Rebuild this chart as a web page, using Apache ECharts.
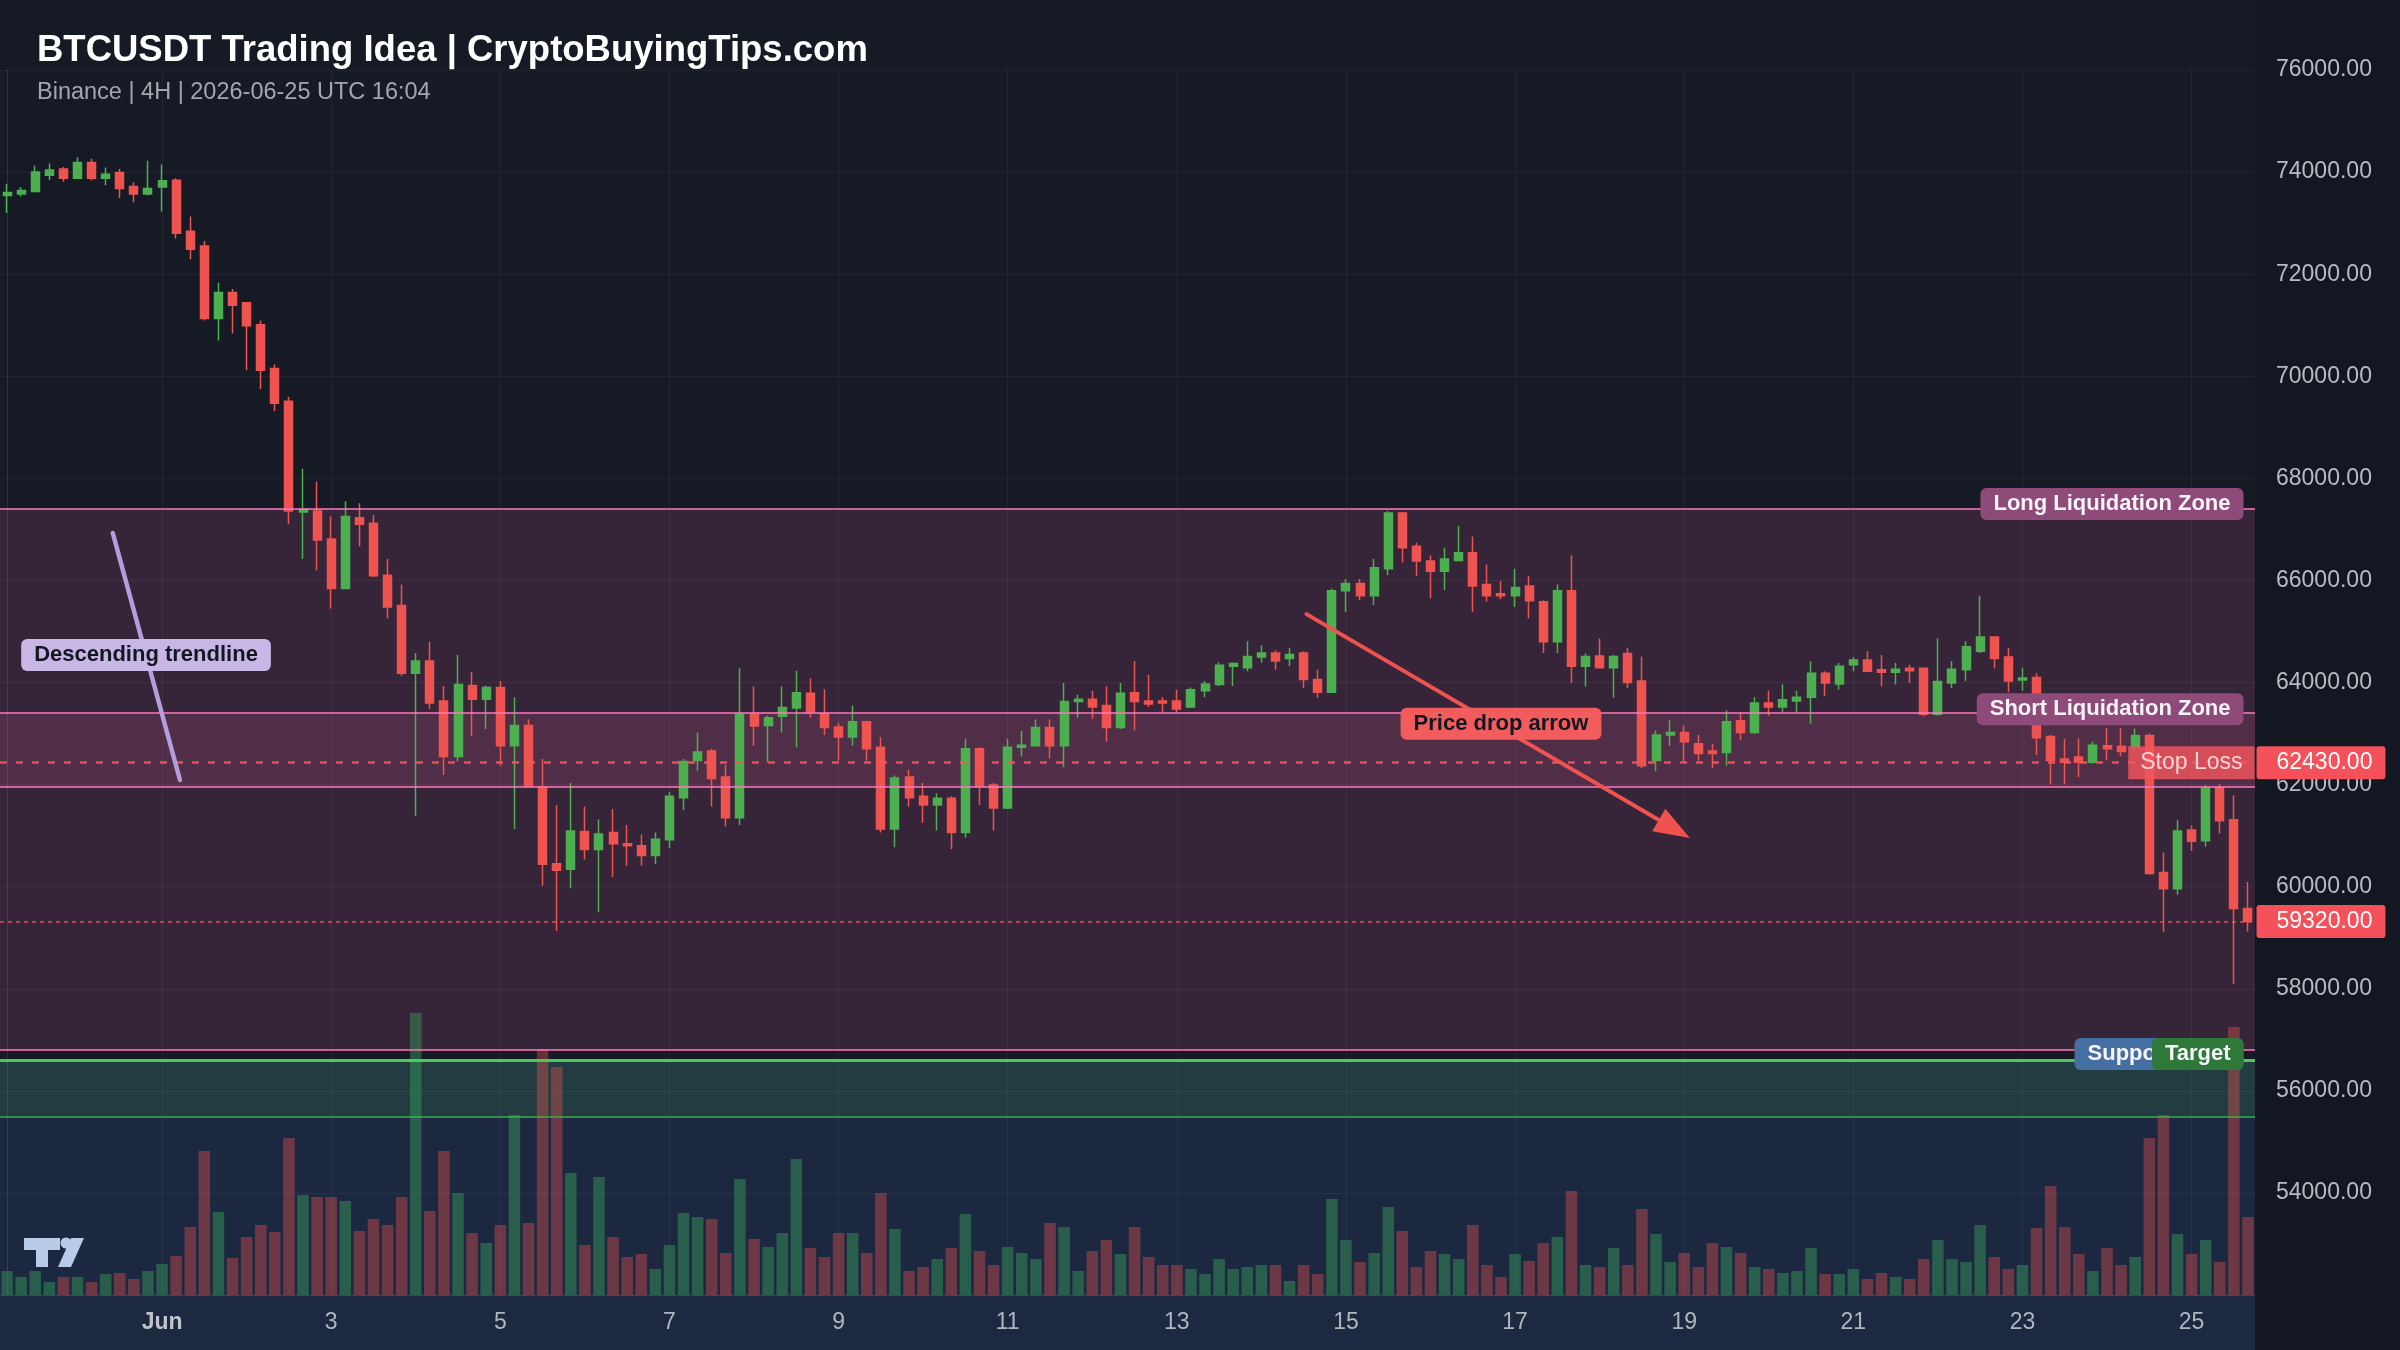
<!DOCTYPE html>
<html>
<head>
<meta charset="utf-8">
<title>BTCUSDT Trading Idea</title>
<script src="https://cdn.jsdelivr.net/npm/echarts@6.0.0/dist/echarts.min.js"></script>
<style>
  html, body { margin: 0; padding: 0; background: #161a25; }
  #main { width: 2400px; height: 1350px; }
</style>
</head>
<body>
<div id="main"></div>
<script>
// 4H candles, [open, high, low, close], first bar 2026-05-30 04:00 UTC
var candles = [
  [73540,73770,73200,73600],[73570,73710,73520,73640],[73620,74130,73600,74000],[73940,74170,73840,74040],
  [74060,74100,73810,73880],[73880,74290,73870,74190],[74190,74260,73840,73880],[73880,74090,73740,73960],
  [73990,74060,73490,73680],[73720,73800,73410,73570],[73570,74220,73540,73680],[73710,74150,73230,73830],
  [73840,73880,72700,72800],[72840,73130,72290,72490],[72550,72650,71090,71130],[71130,71830,70700,71640],
  [71640,71710,70840,71390],[71440,71450,70120,70990],[71010,71090,69750,70120],[70150,70230,69320,69470],
  [69510,69600,67100,67360],[67340,68190,66420,67390],[67360,67940,66200,66790],[66810,67250,65450,65840],
  [65840,67550,65830,67250],[67230,67510,66670,67100],[67120,67280,66060,66090],[66100,66420,65260,65480],
  [65510,65920,64130,64180],[64180,64580,61390,64420],[64420,64800,63480,63600],[63640,63930,62190,62550],
  [62550,64540,62450,63960],[63940,64210,62950,63670],[63670,63940,63090,63900],[63900,64030,62370,62760],
  [62760,63710,61130,63160],[63160,63280,61960,61970],[61960,62500,60020,60440],[60450,61600,59130,60320],
  [60340,62030,59970,61090],[61080,61570,60530,60730],[60730,61320,59500,61030],[61060,61520,60190,60840],
  [60840,61210,60410,60800],[60800,61020,60410,60610],[60610,61060,60440,60930],[60920,61860,60760,61770],
  [61740,62500,61500,62450],[62470,63020,62270,62640],[62660,62700,61570,62120],[62150,62390,61180,61350],
  [61350,64280,61210,63380],[63380,63920,62760,63150],[63160,63350,62440,63310],[63340,63920,63020,63510],
  [63500,64230,62730,63800],[63790,64080,63310,63410],[63390,63870,62970,63120],[63130,63210,62470,62930],
  [62930,63550,62760,63230],[63230,63250,62470,62700],[62730,62930,61060,61130],[61130,62180,60770,62130],
  [62150,62290,61570,61740],[61770,62030,61250,61600],[61600,61830,61100,61730],[61730,61770,60740,61060],
  [61060,62900,60960,62700],[62700,62730,61600,61970],[61990,62030,61100,61540],[61540,62900,61520,62730],
  [62730,63050,62550,62770],[62760,63280,62740,63120],[63120,63280,62510,62760],[62760,63990,62340,63630],
  [63630,63760,63310,63670],[63670,63840,63290,63520],[63550,63920,62840,63120],[63120,63990,63090,63790],
  [63800,64420,63060,63630],[63640,64150,63520,63580],[63640,63710,63410,63600],[63640,63860,63410,63480],
  [63520,63900,63500,63860],[63840,64030,63710,63970],[63960,64390,63930,64340],[64320,64390,63930,64370],
  [64290,64810,64220,64510],[64500,64730,64390,64580],[64580,64630,64250,64420],[64470,64680,64320,64550],
  [64580,64610,63890,64060],[64060,64250,63700,63810],[63810,65840,63800,65800],[65800,66030,65380,65940],
  [65940,66030,65610,65700],[65700,66420,65520,66250],[66230,67360,66100,67320],[67320,67340,66350,66640],
  [66670,66740,66090,66380],[66380,66490,65650,66180],[66180,66640,65810,66420],[66390,67070,66380,66540],
  [66540,66860,65380,65890],[65920,66310,65580,65700],[65740,65990,65630,65700],[65700,66230,65480,65860],
  [65890,66090,65260,65600],[65580,65610,64580,64800],[64800,65920,64580,65800],[65800,66490,63990,64320],
  [64320,64570,63920,64510],[64520,64860,64280,64290],[64290,64540,63700,64510],[64570,64680,63890,64000],
  [64030,64510,62320,62370],[62470,63060,62260,62970],[62970,63260,62760,63020],[63020,63160,62440,62840],
  [62800,62970,62470,62610],[62660,62800,62320,62610],[62630,63450,62370,63230],[63250,63420,62870,63020],
  [63020,63710,62990,63600],[63600,63840,63350,63520],[63520,63960,63420,63660],[63640,63840,63420,63710],
  [63710,64420,63190,64180],[64180,64220,63740,63990],[63970,64380,63860,64320],[64350,64500,64220,64440],
  [64440,64610,64200,64220],[64250,64540,63930,64200],[64200,64380,63960,64260],[64280,64350,63990,64230],
  [64280,64290,63340,63380],[63380,64860,63350,64020],[63990,64420,63890,64260],[64250,64810,64030,64700],
  [64610,65700,64580,64890],[64890,64900,64280,64470],[64500,64680,63810,64030],[64050,64290,63840,64090],
  [64100,64180,62580,62920],[62940,62970,62000,62470],[62500,62900,62000,62440],[62540,62900,62150,62440],
  [62440,62840,62410,62770],[62760,63110,62470,62700],[62750,63110,62550,62650],[62740,63100,62650,62960],
  [62960,63000,60240,60260],[60280,60670,59110,59960],[59960,61300,59840,61090],[61110,61200,60700,60890],
  [60900,61990,60780,61940],[61940,62010,61040,61290],[61310,61790,58100,59570],[59570,60090,59120,59320]
];

var volumes = [
  240,180,240,130,180,180,130,210,220,160,240,310,390,680,1440,830,370,580,700,630,
  1570,1000,980,980,940,640,760,700,980,2820,840,1440,1020,620,520,700,1800,720,2460,2280,
  1220,500,1180,580,380,410,260,500,820,780,760,420,1160,560,480,620,1360,470,380,620,
  620,420,1020,660,240,280,360,470,810,440,300,480,420,360,720,680,240,440,550,410,
  680,380,300,300,260,210,360,260,280,300,300,140,300,210,960,550,330,420,880,640,
  280,440,410,360,700,300,180,410,340,520,580,1040,300,280,470,300,860,610,330,420,
  280,520,480,420,280,260,220,240,470,210,210,260,160,220,180,160,360,550,360,330,
  700,380,260,300,670,1090,680,410,240,470,300,380,1570,1800,610,410,550,330,2680,780
];

var dayTicks = [
  ['06-01', 'Jun'], ['06-03', '3'], ['06-05', '5'], ['06-07', '7'], ['06-09', '9'],
  ['06-11', '11'], ['06-13', '13'], ['06-15', '15'], ['06-17', '17'], ['06-19', '19'],
  ['06-21', '21'], ['06-23', '23'], ['06-25', '25']
];

var longZone = [56800, 67400];
var shortZone = [61950, 63400];
var targetZone = [55500, 56600];
var supportZone = [52000, 56600];
var stopLoss = 62430;
var lastPrice = 59320;
// drawings in [bar index, price]
var trendline = [[7.5, 66930], [12.27, 62090]];
var dropArrow = [[92.2, 65340], [118.3, 61130]];

var FONT = '"Liberation Sans", Arial, Helvetica, sans-serif';
var UP = '#4caf50', DOWN = '#ef5350';

function pad(n) { return n < 10 ? '0' + n : '' + n; }
var startMs = Date.UTC(2026, 4, 30, 4);
var categories = candles.map(function (c, i) {
  var d = new Date(startMs + i * 4 * 3600 * 1000);
  return pad(d.getUTCMonth() + 1) + '-' + pad(d.getUTCDate()) + ' ' + pad(d.getUTCHours()) + ':00';
});
var tickMap = {};
dayTicks.forEach(function (t) { tickMap[t[0] + ' 00:00'] = t[1]; });
function isTick(i, v) { return tickMap[v] !== undefined; }

var lastX = candles.length - 0.5;

function tag(x, y, text, lbl) {
  return { value: [x, y], label: Object.assign({ show: true, formatter: text, fontFamily: FONT }, lbl) };
}
var boxLabel = { fontSize: 22, fontWeight: 'bold', lineHeight: 22, padding: [5, 13], borderRadius: 6, color: '#f6f4f8' };

var labelData = [
  tag(lastX, longZone[1], 'Long Liquidation Zone', Object.assign({}, boxLabel, { position: 'left', distance: 11, offset: [0, -5], backgroundColor: '#8e4a78' })),
  tag(lastX, shortZone[1], 'Short Liquidation Zone', Object.assign({}, boxLabel, { position: 'left', distance: 11, offset: [0, -4], backgroundColor: '#8e4a78' })),
  tag(lastX, 56700, 'Support Zone', Object.assign({}, boxLabel, { position: 'left', distance: 11, offset: [0, -1], backgroundColor: '#456ea2' })),
  tag(lastX, 56700, 'Target', Object.assign({}, boxLabel, { position: 'left', distance: 11, offset: [0, -1], backgroundColor: '#2e783a' })),
  tag(lastX, stopLoss, 'Stop Loss', { position: 'left', distance: 0, fontSize: 23, lineHeight: 23, padding: [5, 12, 5, 12], color: '#ffd6d6', backgroundColor: 'rgba(242,84,92,0.82)', borderRadius: 0 }),
  tag(lastX, stopLoss, stopLoss.toFixed(2), { position: 'right', distance: 1, fontSize: 23, lineHeight: 23, padding: [5, 13, 5, 20], color: '#ffffff', backgroundColor: '#f4515a', borderRadius: 3 }),
  tag(lastX, lastPrice, lastPrice.toFixed(2), { position: 'right', distance: 1, fontSize: 23, lineHeight: 23, padding: [5, 13, 5, 20], color: '#ffffff', backgroundColor: '#f4515a', borderRadius: 3 }),
  tag(9.86, 64500, 'Descending trendline', Object.assign({}, boxLabel, { position: 'inside', offset: [0, -2], color: '#131722', backgroundColor: '#c8b7e6' })),
  tag(106.0, 63170, 'Price drop arrow', Object.assign({}, boxLabel, { position: 'inside', offset: [0, -1], color: '#131722', backgroundColor: '#f25c5c' }))
];

var chart = echarts.init(document.getElementById('main'));

var option = {
  backgroundColor: '#161a25',
  animation: false,
  textStyle: { fontFamily: FONT },
  graphic: [
    { type: 'rect', z: -10, shape: { x: 2255, y: 0, width: 145, height: 1350 }, style: { fill: '#131722' } },
    { type: 'rect', z: -10, shape: { x: 0, y: 1295, width: 2255, height: 55 }, style: { fill: '#1c2940' } },
    { type: 'text', x: 37, y: 51, style: { text: 'BTCUSDT Trading Idea | CryptoBuyingTips.com', fill: '#ffffff', fontSize: 36.5, fontWeight: 'bold', fontFamily: FONT, verticalAlign: 'middle' } },
    { type: 'text', x: 37, y: 93, style: { text: 'Binance | 4H | 2026-06-25 UTC 16:04', fill: '#a3a6af', fontSize: 23.5, fontFamily: FONT, verticalAlign: 'middle' } },
    { type: 'group', z: 10, children: [
      { type: 'polygon', shape: { points: [[24, 1238], [60, 1238], [60, 1250], [48, 1250], [48, 1267], [36, 1267], [36, 1250], [24, 1250]] }, style: { fill: '#c9d3e6' } },
      { type: 'circle', shape: { cx: 66, cy: 1243, r: 5.5 }, style: { fill: '#c9d3e6' } },
      { type: 'polygon', shape: { points: [[71, 1238], [84, 1238], [71, 1267], [58, 1267]] }, style: { fill: '#c9d3e6' } }
    ] }
  ],
  grid: [
    { left: 0, right: 145, top: 70, bottom: 55 },
    { left: 0, right: 145, bottom: 55, height: 300 }
  ],
  xAxis: [
    {
      type: 'category', gridIndex: 0, data: categories, boundaryGap: true,
      axisLine: { show: true, lineStyle: { color: 'rgba(255,255,255,0.10)' } },
      axisTick: { show: false },
      axisLabel: {
        interval: isTick, color: '#b2b5be', fontSize: 23, margin: 16, fontFamily: FONT,
        formatter: function (v) { var t = tickMap[v]; return t === 'Jun' ? '{b|Jun}' : t; },
        rich: { b: { fontWeight: 'bold', fontSize: 23, color: '#c0c3cb', fontFamily: FONT } }
      },
      splitLine: { show: true, interval: isTick, alignWithLabel: true, lineStyle: { color: 'rgba(255,255,255,0.05)', width: 1 } }
    },
    { type: 'category', gridIndex: 1, data: categories, show: false, boundaryGap: true },
    { type: 'value', gridIndex: 0, min: -0.5, max: candles.length - 0.5, show: false }
  ],
  yAxis: [
    {
      type: 'value', gridIndex: 0, position: 'right', min: 52000, max: 76000, interval: 2000, scale: true,
      axisLine: { show: true, lineStyle: { color: 'rgba(255,255,255,0.10)' } },
      axisTick: { show: false },
      axisLabel: { color: '#b8bbc3', fontSize: 23, margin: 21, showMinLabel: false, fontFamily: FONT,
        formatter: function (v) { return v.toFixed(2); } },
      splitLine: { show: true, lineStyle: { color: 'rgba(255,255,255,0.05)' } }
    },
    { type: 'value', gridIndex: 1, min: 0, max: 3000, show: false }
  ],
  series: [
    {
      name: 'zones', type: 'line', xAxisIndex: 2, yAxisIndex: 0, data: [], silent: true, z: 1,
      markArea: {
        silent: true,
        data: [
          [{ yAxis: supportZone[0], itemStyle: { color: 'rgba(70,150,255,0.12)' } }, { yAxis: supportZone[1] }],
          [{ yAxis: targetZone[0], itemStyle: { color: 'rgba(76,175,80,0.15)' } }, { yAxis: targetZone[1] }],
          [{ yAxis: longZone[0], itemStyle: { color: 'rgba(255,105,180,0.14)' } }, { yAxis: longZone[1] }],
          [{ yAxis: shortZone[0], itemStyle: { color: 'rgba(255,105,180,0.13)' } }, { yAxis: shortZone[1] }]
        ]
      },
      markLine: {
        silent: true, symbol: 'none', label: { show: false },
        data: [
          { yAxis: longZone[1], lineStyle: { color: '#ff78be', width: 1.5, type: 'solid' } },
          { yAxis: longZone[0], lineStyle: { color: '#ff78be', width: 1.5, type: 'solid' } },
          { yAxis: shortZone[1], lineStyle: { color: '#ff78be', width: 1.5, type: 'solid' } },
          { yAxis: shortZone[0], lineStyle: { color: '#ff78be', width: 1.5, type: 'solid' } },
          { yAxis: targetZone[1], lineStyle: { color: '#4cc95a', width: 3, type: 'solid' } },
          { yAxis: targetZone[0], lineStyle: { color: '#3fae4e', width: 1.5, type: 'solid' } },
          { yAxis: stopLoss, lineStyle: { color: 'rgba(245,85,90,0.9)', width: 2.5, type: [7, 9] } },
          { yAxis: lastPrice, lineStyle: { color: 'rgba(245,85,90,0.9)', width: 1.5, type: [4, 4] } }
        ]
      }
    },
    {
      name: 'volume', type: 'bar', xAxisIndex: 1, yAxisIndex: 1, barCategoryGap: '18%', z: 2,
      data: volumes.map(function (v, i) {
        var up = candles[i][3] >= candles[i][0];
        return { value: v, itemStyle: { color: up ? 'rgba(56,160,90,0.45)' : 'rgba(239,83,80,0.38)' } };
      })
    },
    {
      name: 'BTCUSDT', type: 'candlestick', xAxisIndex: 0, yAxisIndex: 0, barWidth: 8.5, z: 3,
      data: candles.map(function (c) { return [c[0], c[3], c[2], c[1]]; }),
      itemStyle: { color: UP, color0: DOWN, borderColor: UP, borderColor0: DOWN, borderWidth: 1.5 }
    },
    {
      name: 'drawings', type: 'line', xAxisIndex: 2, yAxisIndex: 0, data: [], silent: true, z: 4,
      markLine: {
        silent: true, label: { show: false }, animation: false,
        data: [
          [{ coord: trendline[0], symbol: 'none', lineStyle: { color: '#b39ddb', width: 4.5, type: 'solid', cap: 'round' } },
           { coord: trendline[1], symbol: 'none' }],
          [{ coord: dropArrow[0], symbol: 'none', lineStyle: { color: '#f0524f', width: 4, type: 'solid', cap: 'round' } },
           { coord: dropArrow[1], symbol: 'triangle', symbolSize: [26, 36] }]
        ]
      }
    },
    {
      name: 'labels', type: 'scatter', xAxisIndex: 2, yAxisIndex: 0, symbolSize: 1, clip: false, silent: true, z: 6,
      itemStyle: { color: 'rgba(0,0,0,0)', opacity: 1 },
      data: labelData
    }
  ]
};

chart.setOption(option);
</script>
</body>
</html>
